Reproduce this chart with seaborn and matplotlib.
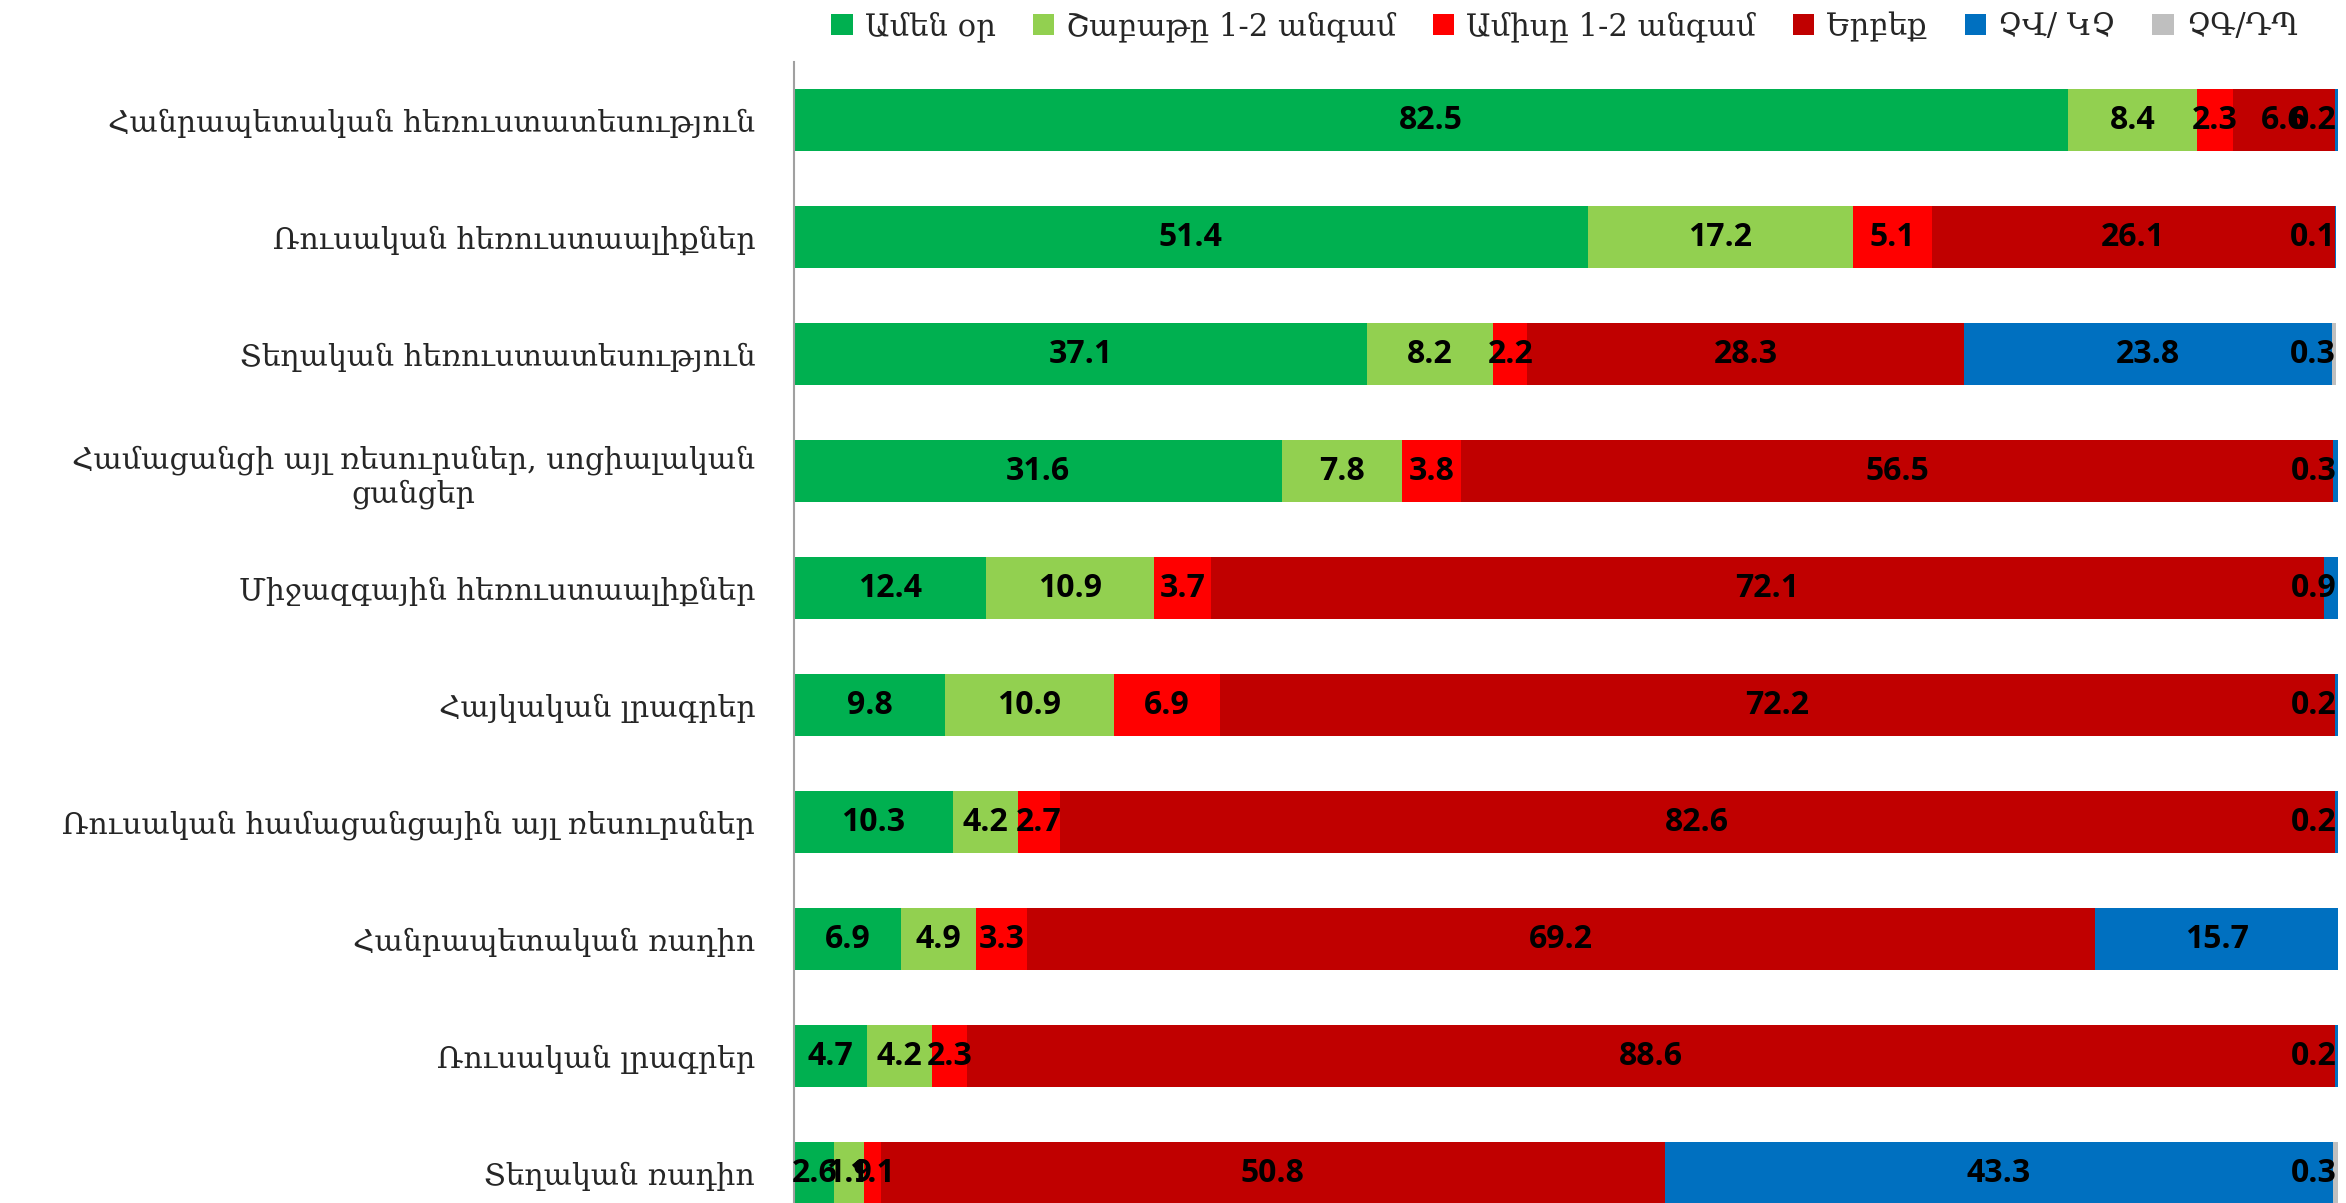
import numpy as np
import pandas as pd
import seaborn as sns
from matplotlib import pyplot as plt
from matplotlib.patches import Patch

sns.set_theme(style="white")
plt.rcParams['font.family'] = ['DejaVu Serif', 'DejaVu Sans']

categories = [
    "Հանրապետական հեռուստատեսություն",
    "Ռուսական հեռուստաալիքներ",
    "Տեղական հեռուստատեսություն",
    "Համացանցի այլ ռեսուրսներ, սոցիալական\nցանցեր",
    "Միջազգային հեռուստաալիքներ",
    "Հայկական լրագրեր",
    "Ռուսական համացանցային այլ ռեսուրսներ",
    "Հանրապետական ռադիո",
    "Ռուսական լրագրեր",
    "Տեղական ռադիո",
]

every_day = [82.5, 51.4, 37.1, 31.6, 12.4, 9.8, 10.3, 6.9, 4.7, 2.6]
weekly = [8.4, 17.2, 8.2, 7.8, 10.9, 10.9, 4.2, 4.9, 4.2, 1.9]
monthly = [2.3, 5.1, 2.2, 3.8, 3.7, 6.9, 2.7, 3.3, 2.3, 1.1]
never = [6.6, 26.1, 28.3, 56.5, 72.1, 72.2, 82.6, 69.2, 88.6, 50.8]
dont_know = [0.2, 0.1, 23.8, 0.3, 0.9, 0.2, 0.2, 15.7, 0.2, 43.3]
no_answer = [0.0, 0.0, 0.3, 0.0, 0.0, 0.0, 0.0, 0.0, 0.0, 0.3]

series_names = ["Ամեն օր", "Շաբաթը 1-2 անգամ", "Ամիսը 1-2 անգամ", "Երբեք", "ՉՎ/ ԿՉ", "ՉԳ/ԴՊ"]
colors = ["#00B050", "#92D050", "#FF0000", "#C00000", "#0070C0", "#BFBFBF"]

vals = np.array([every_day, weekly, monthly, never, dont_know, no_answer])
cum = np.cumsum(vals, axis=0)

fig = plt.figure(figsize=(23.46, 12.03), dpi=100)
ax = fig.add_axes([0.3385, -0.024, 0.658, 0.9725])

# stacked bars: draw cumulative totals from the outermost series inwards
for k in range(len(series_names) - 1, -1, -1):
    df = pd.DataFrame({'cat': categories, 'val': cum[k]})
    sns.barplot(data=df, x='val', y='cat', color=colors[k], width=0.53,
                saturation=1, errorbar=None, linewidth=0, orient='h', ax=ax)

for k in range(len(series_names)):
    for i in range(len(categories)):
        v = vals[k, i]
        if v <= 0:
            continue
        if v < 1:
            ax.text(cum[k, i] - 0.05, i, f"{v:.1f}", ha='right', va='center',
                    fontsize=23, fontweight='bold', family='Open Sans', color='black')
        else:
            ax.text(cum[k, i] - v / 2, i, f"{v:.1f}", ha='center', va='center',
                    fontsize=23, fontweight='bold', family='Open Sans', color='black')

ax.set_xlim(0, 100)
ax.set_ylim(9.5, -0.5)
ax.set_xlabel('')
ax.set_ylabel('')
ax.set_xticks([])
ax.tick_params(axis='y', length=0, pad=28, labelsize=21.5)
for lab in ax.get_yticklabels():
    lab.set_multialignment('center')
for s in ['top', 'right', 'bottom']:
    ax.spines[s].set_visible(False)
ax.spines['left'].set_color('#A0A0A0')
ax.spines['left'].set_linewidth(1.5)

handles = [Patch(facecolor=c, edgecolor='none') for c in colors]
fig.legend(handles, series_names, loc='center', bbox_to_anchor=(0.667, 0.978), ncol=6,
           frameon=False, fontsize=22, handlelength=0.7, handleheight=0.7,
           handletextpad=0.4, columnspacing=1.2)

fig.savefig('out.png', dpi=100)
